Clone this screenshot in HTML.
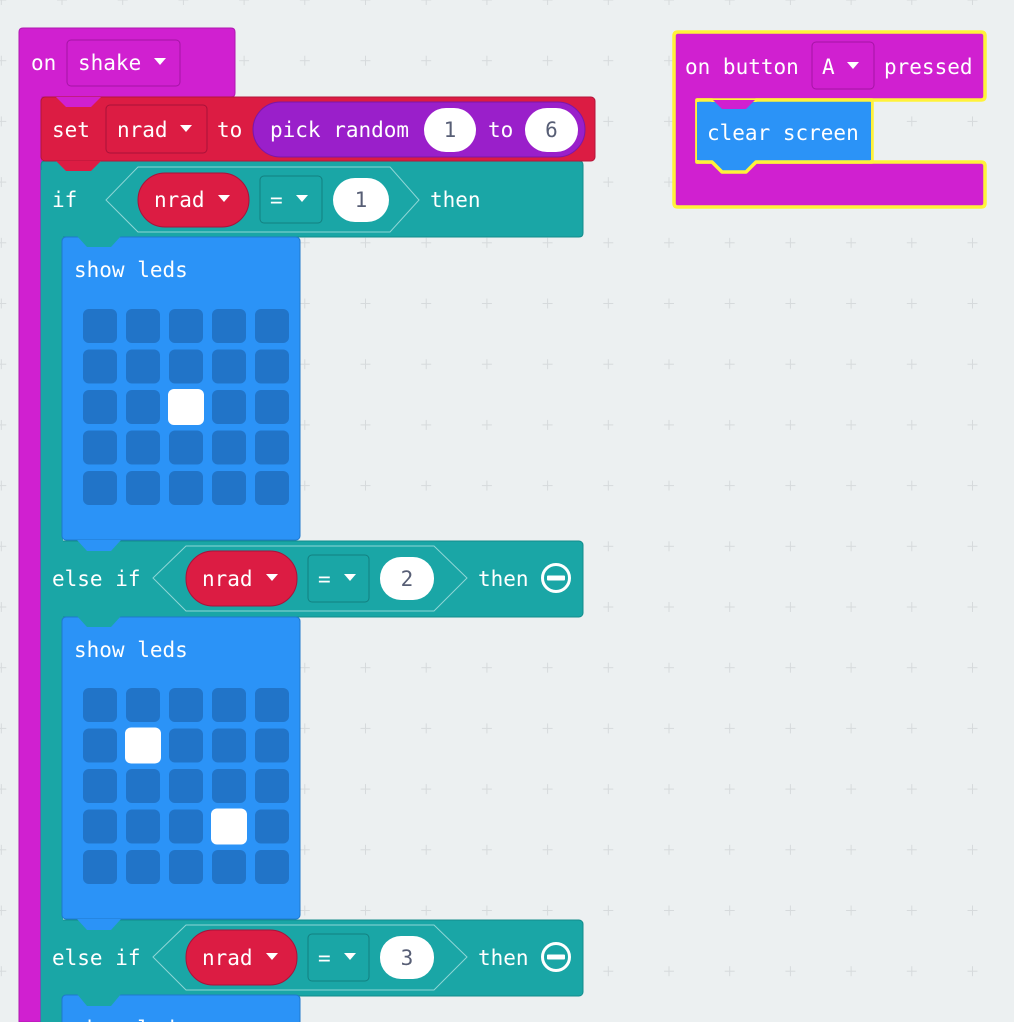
<!DOCTYPE html>
<html><head><meta charset="utf-8"><style>
html,body{margin:0;padding:0;background:#ecf0f1;}
svg{display:block}
text{font-family:"DejaVu Sans Mono","Liberation Mono",monospace;font-size:21px;fill:#fff;}
.n{fill:#575e75;text-anchor:middle}
</style></head><body>
<svg width="1014" height="1022" viewBox="0 0 1014 1022" xmlns="http://www.w3.org/2000/svg">
<defs>
<pattern id="g" x="1.3" y="0" width="60.7" height="60.7" patternUnits="userSpaceOnUse">
<path d="M-5,0H5M0,-5V5M55.7,0H65.7M60.7,-5V5M-5,60.7H5M0,55.7V65.7M55.7,60.7H65.7M60.7,55.7V65.7" stroke="#d6dadc" stroke-width="1"/>
</pattern>
</defs>
<rect width="1014" height="1022" fill="#ecf0f1"/>
<rect width="1014" height="1022" fill="url(#g)"/>

<path d="M19,32 Q19,28 23,28 H231 Q235,28 235,32 V93 Q235,97 231,97 H42 V1022 H19 Z" fill="#d020d0" stroke="#b018b0" stroke-width="1"/>
<rect x="67" y="40" width="113" height="46" rx="4" fill="#d020d0" stroke="#a514a5" stroke-width="1"/>
<text x="31" y="70">on</text>
<text x="78" y="70">shake</text>
<path d="M154,58 h12 l-6,7 z" fill="#fff"/>

<path d="M41,165 Q41,161 45,161 H579 Q583,161 583,165 V233 Q583,237 579,237 H62 V1022 H41 Z" fill="#1aa6a6" stroke="#138c8c" stroke-width="1"/>
<rect x="41" y="541" width="542" height="76" rx="4" fill="#1aa6a6" stroke="#138c8c" stroke-width="1"/>
<rect x="41" y="920" width="542" height="76" rx="4" fill="#1aa6a6" stroke="#138c8c" stroke-width="1"/>
<rect x="41" y="170" width="22" height="852" fill="#1aa6a6"/>

<rect x="41" y="97" width="554" height="64" rx="4" fill="#dc1c43" stroke="#b3163a" stroke-width="1"/>
<polygon points="56,97 66,107 91,107 101,97" fill="#d020d0"/>
<polygon points="56,161 66,171 91,171 101,161" fill="#dc1c43"/>
<text x="52" y="137">set</text>
<rect x="106" y="105" width="101" height="48" rx="4" fill="#dc1c43" stroke="#a8123a" stroke-width="1"/>
<text x="117" y="137">nrad</text>
<path d="M180,125 h12 l-6,7 z" fill="#fff"/>
<text x="217" y="137">to</text>
<rect x="253" y="102" width="332" height="55" rx="27.5" fill="#9a1fca" stroke="#7c17a6" stroke-width="1"/>
<text x="270" y="137">pick random</text>
<rect x="424" y="108" width="52" height="44" rx="22" fill="#fff"/>
<text class="n" x="450" y="137">1</text>
<text x="488" y="137">to</text>
<rect x="525" y="108" width="53" height="44" rx="22" fill="#fff"/>
<text class="n" x="551.5" y="137">6</text>

<text x="52" y="207">if</text>
<polygon points="106,200 138,167 390,167 419,200 390,232 138,232" fill="none" stroke="#8fd6d6" stroke-width="1"/>
<rect x="138" y="173" width="111" height="54" rx="27" fill="#dc1c43" stroke="#a8123a" stroke-width="1"/>
<text x="154" y="207">nrad</text>
<path d="M218,195 h12 l-6,7 z" fill="#fff"/>
<rect x="260" y="176" width="62" height="47" rx="4" fill="#1aa6a6" stroke="#138080" stroke-width="1"/>
<text x="270" y="207">=</text>
<path d="M296,195 h12 l-6,7 z" fill="#fff"/>
<rect x="333" y="178" width="56" height="44" rx="22" fill="#fff"/>
<text class="n" x="361" y="207">1</text>
<text x="430" y="207">then</text>

<text x="52" y="586">else if</text>
<polygon points="153,578 186,546 434,546 467,578 434,611 186,611" fill="none" stroke="#8fd6d6" stroke-width="1"/>
<rect x="186" y="551" width="111" height="55" rx="27" fill="#dc1c43" stroke="#a8123a" stroke-width="1"/>
<text x="202" y="586">nrad</text>
<path d="M266,574 h12 l-6,7 z" fill="#fff"/>
<rect x="308" y="555" width="61" height="47" rx="4" fill="#1aa6a6" stroke="#138080" stroke-width="1"/>
<text x="318" y="586">=</text>
<path d="M344,574 h12 l-6,7 z" fill="#fff"/>
<rect x="380" y="557" width="54" height="43" rx="21" fill="#fff"/>
<text class="n" x="407" y="586">2</text>
<text x="478" y="586">then</text>
<circle cx="556" cy="578" r="13.5" fill="none" stroke="#fff" stroke-width="3"/>
<rect x="547" y="575.5" width="18" height="5" rx="1" fill="#fff"/>

<text x="52" y="965">else if</text>
<polygon points="153,957 186,925 434,925 467,957 434,990 186,990" fill="none" stroke="#8fd6d6" stroke-width="1"/>
<rect x="186" y="930" width="111" height="55" rx="27" fill="#dc1c43" stroke="#a8123a" stroke-width="1"/>
<text x="202" y="965">nrad</text>
<path d="M266,953 h12 l-6,7 z" fill="#fff"/>
<rect x="308" y="934" width="61" height="47" rx="4" fill="#1aa6a6" stroke="#138080" stroke-width="1"/>
<text x="318" y="965">=</text>
<path d="M344,953 h12 l-6,7 z" fill="#fff"/>
<rect x="380" y="936" width="54" height="43" rx="21" fill="#fff"/>
<text class="n" x="407" y="965">3</text>
<text x="478" y="965">then</text>
<circle cx="556" cy="957" r="13.5" fill="none" stroke="#fff" stroke-width="3"/>
<rect x="547" y="954.5" width="18" height="5" rx="1" fill="#fff"/>

<rect x="62" y="237" width="238" height="303" rx="4" fill="#2b93f7" stroke="#1f78cc" stroke-width="1"/>
<polygon points="77,236 87,247 111,247 121,236" fill="#1aa6a6"/>
<polygon points="77,540 87,551 111,551 121,540" fill="#2b93f7"/>
<text x="74" y="277">show leds</text>
<g fill="#2174c8">
<rect x="83" y="309" width="34" height="34" rx="6"/><rect x="126" y="309" width="34" height="34" rx="6"/><rect x="169" y="309" width="34" height="34" rx="6"/><rect x="212" y="309" width="34" height="34" rx="6"/><rect x="255" y="309" width="34" height="34" rx="6"/>
<rect x="83" y="349.5" width="34" height="34" rx="6"/><rect x="126" y="349.5" width="34" height="34" rx="6"/><rect x="169" y="349.5" width="34" height="34" rx="6"/><rect x="212" y="349.5" width="34" height="34" rx="6"/><rect x="255" y="349.5" width="34" height="34" rx="6"/>
<rect x="83" y="390" width="34" height="34" rx="6"/><rect x="126" y="390" width="34" height="34" rx="6"/><rect x="212" y="390" width="34" height="34" rx="6"/><rect x="255" y="390" width="34" height="34" rx="6"/>
<rect x="83" y="430.5" width="34" height="34" rx="6"/><rect x="126" y="430.5" width="34" height="34" rx="6"/><rect x="169" y="430.5" width="34" height="34" rx="6"/><rect x="212" y="430.5" width="34" height="34" rx="6"/><rect x="255" y="430.5" width="34" height="34" rx="6"/>
<rect x="83" y="471" width="34" height="34" rx="6"/><rect x="126" y="471" width="34" height="34" rx="6"/><rect x="169" y="471" width="34" height="34" rx="6"/><rect x="212" y="471" width="34" height="34" rx="6"/><rect x="255" y="471" width="34" height="34" rx="6"/>
</g>
<rect x="168" y="389" width="36" height="36" rx="6" fill="#fff"/>

<rect x="62" y="617" width="238" height="302" rx="4" fill="#2b93f7" stroke="#1f78cc" stroke-width="1"/>
<polygon points="77,616 87,627 111,627 121,616" fill="#1aa6a6"/>
<polygon points="77,919 87,930 111,930 121,919" fill="#2b93f7"/>
<text x="74" y="657">show leds</text>
<g fill="#2174c8">
<rect x="83" y="688" width="34" height="34" rx="6"/><rect x="126" y="688" width="34" height="34" rx="6"/><rect x="169" y="688" width="34" height="34" rx="6"/><rect x="212" y="688" width="34" height="34" rx="6"/><rect x="255" y="688" width="34" height="34" rx="6"/>
<rect x="83" y="728.5" width="34" height="34" rx="6"/><rect x="169" y="728.5" width="34" height="34" rx="6"/><rect x="212" y="728.5" width="34" height="34" rx="6"/><rect x="255" y="728.5" width="34" height="34" rx="6"/>
<rect x="83" y="769" width="34" height="34" rx="6"/><rect x="126" y="769" width="34" height="34" rx="6"/><rect x="169" y="769" width="34" height="34" rx="6"/><rect x="212" y="769" width="34" height="34" rx="6"/><rect x="255" y="769" width="34" height="34" rx="6"/>
<rect x="83" y="809.5" width="34" height="34" rx="6"/><rect x="126" y="809.5" width="34" height="34" rx="6"/><rect x="169" y="809.5" width="34" height="34" rx="6"/><rect x="255" y="809.5" width="34" height="34" rx="6"/>
<rect x="83" y="850" width="34" height="34" rx="6"/><rect x="126" y="850" width="34" height="34" rx="6"/><rect x="169" y="850" width="34" height="34" rx="6"/><rect x="212" y="850" width="34" height="34" rx="6"/><rect x="255" y="850" width="34" height="34" rx="6"/>
</g>
<rect x="125" y="727.5" width="36" height="36" rx="6" fill="#fff"/>
<rect x="211" y="808.5" width="36" height="36" rx="6" fill="#fff"/>

<rect x="62" y="995" width="238" height="60" rx="4" fill="#2b93f7" stroke="#1f78cc" stroke-width="1"/>
<polygon points="77,994 87,1006 111,1006 121,994" fill="#1aa6a6"/>
<text x="74" y="1036">show leds</text>

<path d="M678,32 H981 Q985,32 985,36 V96 Q985,100 981,100 H697 V162 H981 Q985,162 985,166 V203 Q985,207 981,207 H678 Q674,207 674,203 V36 Q674,32 678,32 Z" fill="#d020d0" stroke="#fff23a" stroke-width="3.5" stroke-linejoin="round"/>
<path d="M697,100 H712 L722,110 H746 L756,100 H872 V162 H756 L746,172 H722 L712,162 H697 Z" fill="#2b93f7" stroke="#fff23a" stroke-width="3.5" stroke-linejoin="round"/>
<rect x="697" y="102" width="174" height="58" fill="#2b93f7"/>
<polygon points="713,100 722,109 746,109 755,100" fill="#d020d0"/>
<rect x="812" y="42" width="62" height="47" rx="4" fill="#d020d0" stroke="#a514a5" stroke-width="1"/>
<text x="685" y="74">on button</text>
<text x="822" y="74">A</text>
<path d="M847,62 h12 l-6,7 z" fill="#fff"/>
<text x="884" y="74">pressed</text>
<text x="707" y="140">clear screen</text>
</svg>
</body></html>
